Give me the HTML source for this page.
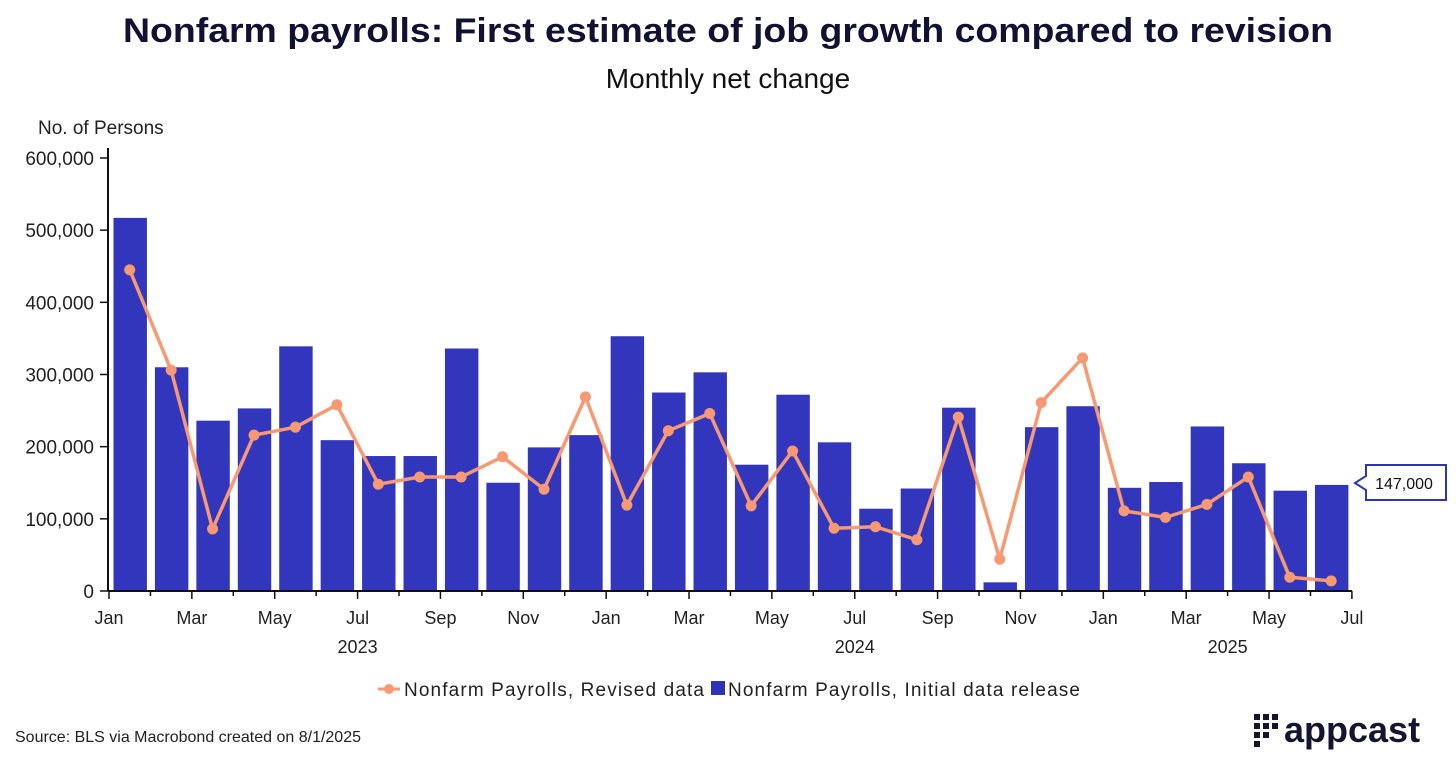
<!DOCTYPE html>
<html><head><meta charset="utf-8"><style>
body{margin:0;background:#fff;font-family:"Liberation Sans",sans-serif;}
svg{display:block}
</style></head><body>
<svg width="1456" height="763" viewBox="0 0 1456 763">
<text x="728" y="42" text-anchor="middle" font-size="34" font-weight="bold" fill="#111133" textLength="1210" lengthAdjust="spacingAndGlyphs">Nonfarm payrolls: First estimate of job growth compared to revision</text>
<text x="728" y="88" text-anchor="middle" font-size="28" fill="#111">Monthly net change</text>
<text x="38" y="134" font-size="19" fill="#222">No. of Persons</text>
<g id="yaxis"></g>
<g id="bars"></g>
<g id="line"></g>
<g id="xaxis"></g>
<g>
<path d="M1366,465 H1446 V500 H1366 V490 L1355,483 L1366,476 Z" fill="#fff" stroke="#2e34b8" stroke-width="2"/>
<text x="1404" y="489" text-anchor="middle" font-size="16" fill="#111" id="callout-text">147,000</text>
</g>
<g>
<line x1="378" y1="689" x2="400" y2="689" stroke="#f79a73" stroke-width="3"/>
<circle cx="389" cy="689" r="5" fill="#f79a73"/>
<text x="404" y="696" font-size="19" fill="#222" textLength="300">Nonfarm Payrolls, Revised data</text>
<rect x="711" y="681" width="14" height="14" fill="#2e34b8"/>
<text x="728" y="696" font-size="19" fill="#222" textLength="352">Nonfarm Payrolls, Initial data release</text>
</g>
<text x="15" y="742" font-size="16" fill="#222">Source: BLS via Macrobond created on 8/1/2025</text>
<g>
<g fill="#151530">
<rect x="1254" y="714" width="6" height="6"/><rect x="1263" y="714" width="6" height="6"/><rect x="1272" y="714" width="6" height="6"/>
<rect x="1254" y="723" width="6" height="6"/><rect x="1263" y="723" width="6" height="6"/><rect x="1272" y="723" width="6" height="6"/>
<rect x="1254" y="732" width="6" height="6"/><rect x="1263" y="732" width="6" height="6"/>
<rect x="1254" y="741" width="6" height="6"/>
</g>
<text x="1284" y="742" font-size="36" font-weight="bold" fill="#151530">appcast</text>
</g>
</svg>
<script>
const months=["Jan","Feb","Mar","Apr","May","Jun","Jul","Aug","Sep","Oct","Nov","Dec","Jan","Feb","Mar","Apr","May","Jun","Jul","Aug","Sep","Oct","Nov","Dec","Jan","Feb","Mar","Apr","May","Jun"];
const initialValues=[517,310,236,253,339,209,187,187,336,150,199,216,353,275,303,175,272,206,114,142,254,12,227,256,143,151,228,177,139,147];
const revisedValues=[445,306,86,216,227,258,148,158,158,186,141,269,119,222,246,118,194,87,89,71,241,44,261,323,111,102,120,158,19,14];
const yTicks=[0,100000,200000,300000,400000,500000,600000];
const xTickLabels=["Jan","Mar","May","Jul","Sep","Nov","Jan","Mar","May","Jul","Sep","Nov","Jan","Mar","May","Jul"];
const yearLabels=["2023","2024","2025"];
const NS="http://www.w3.org/2000/svg";
const X0=109,MW=41.43,Y0=591,PX=72.17/100000;
const xm=i=>X0+i*MW;
const y=v=>Y0-v*PX;
const yk=v=>y(v*1000);
function mk(t,a,p){const e=document.createElementNS(NS,t);for(const k in a)e.setAttribute(k,a[k]);p.appendChild(e);return e;}
const ya=document.getElementById('yaxis');
mk('line',{x1:108,y1:148,x2:108,y2:Y0,stroke:'#111','stroke-width':2},ya);
yTicks.forEach(v=>{mk('line',{x1:100,y1:y(v),x2:108,y2:y(v),stroke:'#111','stroke-width':1.5},ya);
const t=mk('text',{x:94,y:y(v)+7,'text-anchor':'end','font-size':19,fill:'#222'},ya);t.textContent=v.toLocaleString('en-US');

});
const bg=document.getElementById('bars');
initialValues.forEach((v,i)=>{const r=mk('rect',{x:xm(i)+4.5,y:yk(v),width:MW-8,height:Y0-yk(v),fill:'#3136bd'},bg);

});
const lg=document.getElementById('line');
const pts=revisedValues.map((v,i)=>[xm(i)+MW/2,yk(v)]);
mk('polyline',{points:pts.map(p=>p.join(',')).join(' '),fill:'none',stroke:'#f79a73','stroke-width':3.5,'stroke-linejoin':'round'},lg);
pts.forEach(p=>{const c=mk('circle',{cx:p[0],cy:p[1],r:5.5,fill:'#f79a73'},lg);

});
const xa=document.getElementById('xaxis');
mk('line',{x1:108,y1:Y0,x2:xm(30),y2:Y0,stroke:'#111','stroke-width':2},xa);
for(let i=0;i<=30;i++){mk('line',{x1:xm(i),y1:Y0,x2:xm(i),y2:Y0+(i%2==0?8:5),stroke:'#111','stroke-width':1.5},xa);}
xTickLabels.forEach((l,k)=>{const t=mk('text',{x:xm(k*2),y:624,'text-anchor':'middle','font-size':18,fill:'#222'},xa);t.textContent=l;

});
const nM=months.length;
yearLabels.forEach((l,k)=>{const s=k*12,e=Math.min(nM,s+12);const t=mk('text',{x:xm((s+e)/2),y:653,'text-anchor':'middle','font-size':18,fill:'#222'},xa);t.textContent=l;

});
document.getElementById('callout-text').textContent=(initialValues[initialValues.length-1]*1000).toLocaleString('en-US');
</script>
</body></html>
